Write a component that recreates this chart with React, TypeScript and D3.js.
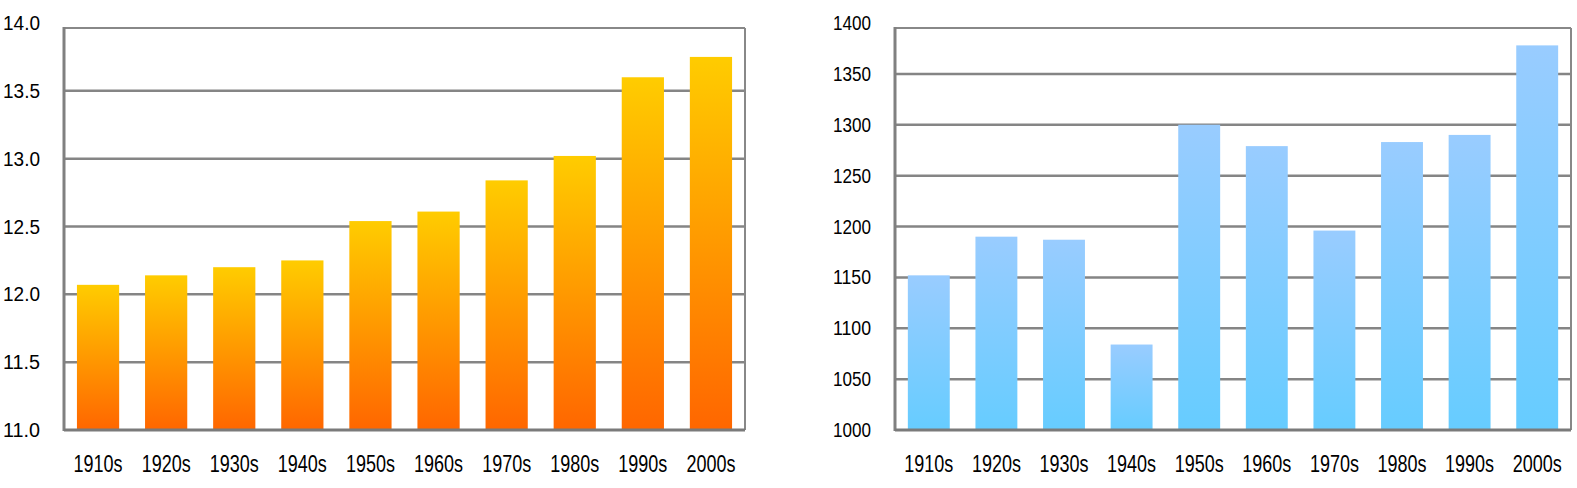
import React from 'react';
import * as d3 from 'd3';

// decades shared by both panels
const decades = ['1910s', '1920s', '1930s', '1940s', '1950s', '1960s', '1970s', '1980s', '1990s', '2000s'];

// left panel values
const leftValues = [12.07, 12.14, 12.2, 12.25, 12.54, 12.61, 12.84, 13.02, 13.6, 13.75];
const leftTicks = [11.0, 11.5, 12.0, 12.5, 13.0, 13.5, 14.0];

// right panel values
const rightValues = [1152, 1190, 1187, 1084, 1300, 1279, 1196, 1283, 1290, 1378];
const rightTicks = [1000, 1050, 1100, 1150, 1200, 1250, 1300, 1350, 1400];

const W = 1577;
const H = 488;
const frameTop = 28;
const frameBottom = 430;
const font = '"Liberation Sans", Arial, sans-serif';

type PanelProps = {
  id: string;
  left: number;
  right: number;
  values: number[];
  ticks: number[];
  fmt: (v: number) => string;
  tickWidth: number;
  topColor: string;
  bottomColor: string;
};

function BarPanel(props: PanelProps) {
  const { id, left, right, values, ticks, fmt, tickWidth, topColor, bottomColor } = props;
  const lo = ticks[0];
  const hi = ticks[ticks.length - 1];

  const x = d3.scaleBand<string>()
    .domain(decades)
    .range([left, right])
    .paddingInner(0.38)
    .paddingOuter(0.19);
  // top tick sits a few px above the frame, like the source
  const y = d3.scaleLinear().domain([lo, hi]).range([frameBottom, frameTop - 5]);

  return (
    <g>
      <defs>
        <linearGradient id={id} x1="0" y1="0" x2="0" y2="1">
          <stop offset="0" stopColor={topColor} />
          <stop offset="1" stopColor={bottomColor} />
        </linearGradient>
      </defs>
      {ticks.filter(t => t !== lo && t !== hi).map(t => (
        <line key={t} x1={left} x2={right} y1={y(t)} y2={y(t)} stroke="#858585" strokeWidth={2.5} />
      ))}
      {values.map((v, i) => (
        <rect
          key={decades[i]}
          x={x(decades[i])}
          width={x.bandwidth()}
          y={y(v)}
          height={y(lo) - y(v)}
          fill={`url(#${id})`}
        />
      ))}
      {/* frame */}
      <line x1={left} x2={right} y1={frameTop} y2={frameTop} stroke="#888" strokeWidth={2} />
      <line x1={right} x2={right} y1={frameTop} y2={frameBottom} stroke="#888" strokeWidth={2} />
      <line x1={left} x2={left} y1={frameTop - 1} y2={frameBottom + 1} stroke="#808080" strokeWidth={3} />
      <line x1={left} x2={right} y1={frameBottom} y2={frameBottom} stroke="#7a7a7a" strokeWidth={3} />
      {ticks.map(t => (
        <text
          key={'l' + t}
          x={left - 24 - tickWidth}
          y={y(t)}
          dy="0.35em"
          textLength={tickWidth}
          lengthAdjust="spacingAndGlyphs"
          fontFamily={font}
          fontSize={20}
          fill="#000"
        >
          {fmt(t)}
        </text>
      ))}
      {decades.map(d => (
        <text
          key={'x' + d}
          x={(x(d) ?? 0) + x.bandwidth() / 2 - 24.5}
          y={472}
          textLength={49}
          lengthAdjust="spacingAndGlyphs"
          fontFamily={font}
          fontSize={23}
          fill="#000"
        >
          {d}
        </text>
      ))}
    </g>
  );
}

export default function App() {
  return (
    <svg
      width={W}
      height={H}
      viewBox={`0 0 ${W} ${H}`}
      style={{ position: 'absolute', left: 0, top: 0, background: '#fff' }}
    >
      <BarPanel
        id="gradOrange"
        left={64}
        right={745}
        values={leftValues}
        ticks={leftTicks}
        fmt={d3.format('.1f')}
        tickWidth={37}
        topColor="#ffcc00"
        bottomColor="#ff6600"
      />
      <BarPanel
        id="gradBlue"
        left={895}
        right={1571}
        values={rightValues}
        ticks={rightTicks}
        fmt={d3.format('d')}
        tickWidth={38}
        topColor="#99ccff"
        bottomColor="#66ccff"
      />
    </svg>
  );
}
